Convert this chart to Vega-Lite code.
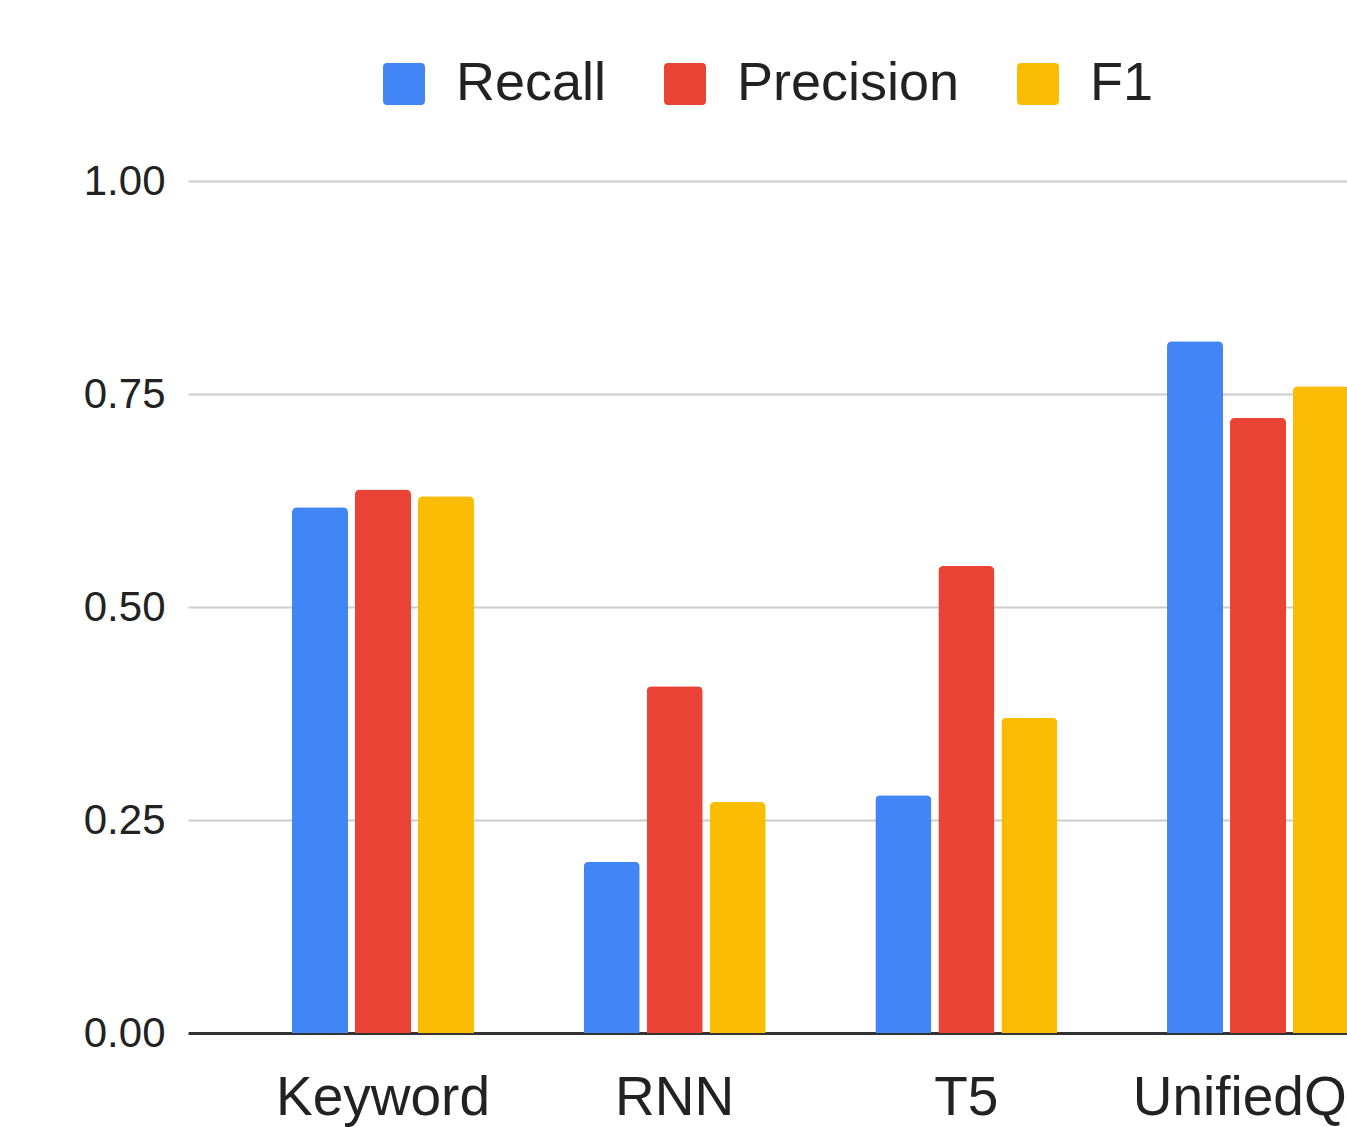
{
  "$schema": "https://vega.github.io/schema/vega-lite/v6.json",
  "width": 1159,
  "height": 852,
  "autosize": {"type": "none"},
  "padding": {"left": 188, "top": 181, "right": 0, "bottom": 94},
  "background": "white",
  "config": {"view": {"stroke": null}, "font": "Liberation Sans"},
  "data": {
    "values": [
      {"model": "Keyword", "metric": "Recall", "value": 0.617},
      {"model": "Keyword", "metric": "Precision", "value": 0.638},
      {"model": "Keyword", "metric": "F1", "value": 0.630},
      {"model": "RNN", "metric": "Recall", "value": 0.201},
      {"model": "RNN", "metric": "Precision", "value": 0.407},
      {"model": "RNN", "metric": "F1", "value": 0.271},
      {"model": "T5", "metric": "Recall", "value": 0.279},
      {"model": "T5", "metric": "Precision", "value": 0.548},
      {"model": "T5", "metric": "F1", "value": 0.370},
      {"model": "UnifiedQA", "metric": "Recall", "value": 0.812},
      {"model": "UnifiedQA", "metric": "Precision", "value": 0.722},
      {"model": "UnifiedQA", "metric": "F1", "value": 0.759}
    ]
  },
  "mark": {"type": "bar", "cornerRadiusTopLeft": 5, "cornerRadiusTopRight": 5},
  "encoding": {
    "x": {
      "field": "model",
      "type": "nominal",
      "sort": ["Keyword", "RNN", "T5", "UnifiedQA"],
      "scale": {"range": [0, 1265], "paddingInner": 0.352, "paddingOuter": 0.3445},
      "axis": {
        "title": null,
        "labelAngle": 0,
        "labelFontSize": 55,
        "labelColor": "#222",
        "labelPadding": 38,
        "labelLimit": 1000,
        "ticks": false,
        "domain": false,
        "labelBound": false,
        "labelOverlap": false
      }
    },
    "xOffset": {
      "field": "metric",
      "type": "nominal",
      "sort": ["Recall", "Precision", "F1"],
      "scale": {"paddingInner": 0.111, "paddingOuter": 0.0556}
    },
    "y": {
      "field": "value",
      "type": "quantitative",
      "scale": {"domain": [0, 1]},
      "axis": {
        "title": null,
        "values": [0, 0.25, 0.5, 0.75, 1],
        "format": ".2f",
        "labelFontSize": 42,
        "labelColor": "#222",
        "labelPadding": 23,
        "ticks": false,
        "domain": false,
        "gridColor": {"condition": {"test": "datum.value === 0", "value": "#333333"}, "value": "#cccccc"},
        "gridWidth": {"condition": {"test": "datum.value === 0", "value": 3}, "value": 2}
      }
    },
    "color": {
      "field": "metric",
      "type": "nominal",
      "sort": ["Recall", "Precision", "F1"],
      "scale": {"domain": ["Recall", "Precision", "F1"], "range": ["#4285F4", "#EA4335", "#FBBC04"]},
      "legend": {
        "title": null,
        "orient": "none",
        "direction": "horizontal",
        "legendX": 189,
        "legendY": -124,
        "symbolType": "M -0.8,-1 L 0.8,-1 Q 1,-1 1,-0.8 L 1,0.8 Q 1,1 0.8,1 L -0.8,1 Q -1,1 -1,0.8 L -1,-0.8 Q -1,-1 -0.8,-1 Z",
        "symbolSize": 1764,
        "symbolStrokeWidth": 0,
        "labelFontSize": 54,
        "labelColor": "#222",
        "labelOffset": 25,
        "columnPadding": 51,
        "labelLimit": 400,
        "padding": 0
      }
    }
  }
}
